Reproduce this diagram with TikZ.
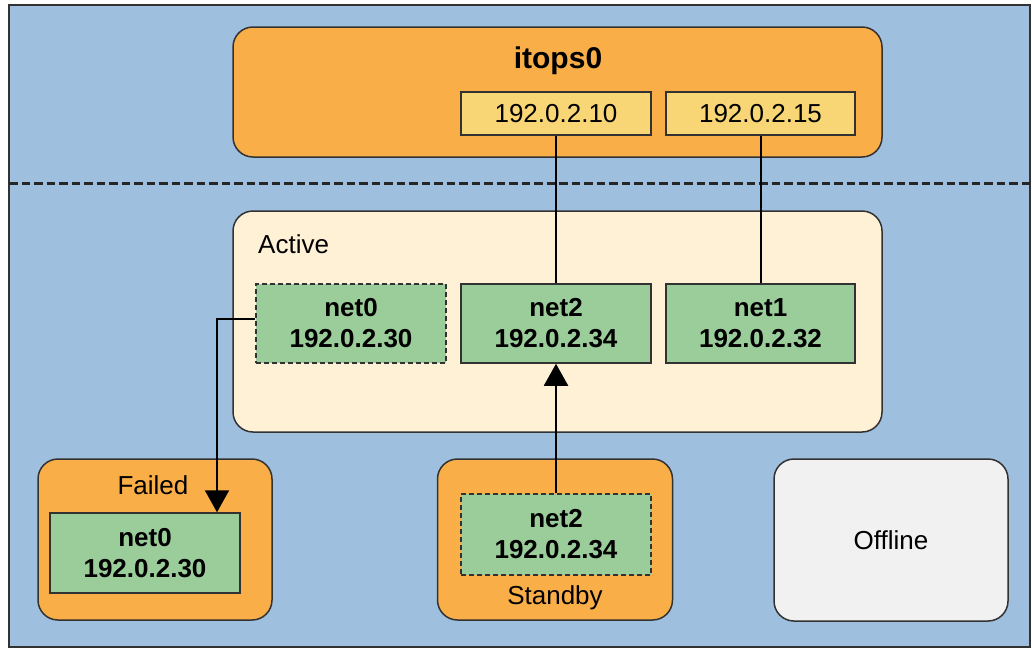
\documentclass[tikz,border=0pt]{standalone}
\usepackage{fontspec}
\setmainfont{Liberation Sans}
\usetikzlibrary{arrows.meta}

\definecolor{bgblue}{RGB}{159,191,222}
\definecolor{ifaceorange}{RGB}{249,174,72}
\definecolor{addryellow}{RGB}{248,214,117}
\definecolor{activecream}{RGB}{255,241,214}
\definecolor{netgreen}{RGB}{155,205,155}
\definecolor{offgray}{RGB}{241,241,241}
\definecolor{edgegray}{RGB}{50,50,50}

\newcommand\plainfont{\fontsize{26}{31}\selectfont}
\newcommand\netfont{\fontsize{26}{31}\selectfont\bfseries}

\tikzset{
  zone/.style={draw=edgegray, line width=1.5pt, rounded corners=20pt, inner sep=0pt},
  netbox/.style={draw=edgegray, line width=1.5pt, fill=netgreen, inner sep=0pt,
    minimum width=190pt, minimum height=79pt, align=center, font=\netfont},
  sparebox/.style={netbox, dash pattern=on 5pt off 3pt},
  addrbox/.style={draw=edgegray, line width=1.5pt, fill=addryellow, inner sep=0pt,
    minimum width=190pt, minimum height=43pt, font=\plainfont},
  tag/.style={inner sep=0pt, font=\plainfont},
  wire/.style={draw=black, line width=2pt},
  handover/.style={wire, -{Triangle[width=24pt,length=22pt]}},
}

\begin{document}
\begin{tikzpicture}[x=1pt,y=-1pt]
  \useasboundingbox (0,0) rectangle (1032,649);
  \fill[white] (0,0) rectangle (1032,649);

  % outer frame
  \node[draw=edgegray, line width=2pt, fill=bgblue, inner sep=0pt,
        minimum width=1021pt, minimum height=642pt] (frame) at (519.5,326) {};

  % IPMP interface with its data addresses
  \node[zone, fill=ifaceorange, minimum width=649pt, minimum height=130pt] (itops) at (557.5,92) {};
  \node[tag, font=\fontsize{30}{36}\selectfont\bfseries, anchor=base] (itopsname) at (558,68) {itops0};
  \node[addrbox] (ip10) at (556,113.5) {192.0.2.10};
  \node[addrbox, minimum width=189pt] (ip15) at (760.5,113.5) {192.0.2.15};

  % boundary between interface and underlying interfaces
  \draw[black!85, line width=3pt, dash pattern=on 8.5pt off 4pt] (9,183) -- (1030,183);

  % active group
  \node[zone, fill=activecream, minimum width=649pt, minimum height=221pt] (active) at (557.5,321.5) {};
  \node[tag, anchor=base west] (activename) at (258,253) {Active};
  \node[sparebox] (a0) at (351,323.5) {net0\\192.0.2.30};
  \node[netbox] (b2) at (556,323.5) {net2\\192.0.2.34};
  \node[netbox, minimum width=189pt] (c1) at (760.5,323.5) {net1\\192.0.2.32};

  % failed group
  \node[zone, fill=ifaceorange, minimum width=234pt, minimum height=161pt] (failed) at (155,539.5) {};
  \node[tag, anchor=base] (failedname) at (153,494) {Failed};
  \node[netbox, minimum height=80pt] (f0) at (145,553) {net0\\192.0.2.30};

  % standby group
  \node[zone, fill=ifaceorange, minimum width=235pt, minimum height=161pt] (standby) at (555,539.5) {};
  \node[sparebox, minimum height=81pt] (s2) at (556,534.5) {net2\\192.0.2.34};
  \node[tag, anchor=base] (standbyname) at (555,604) {Standby};

  % offline group
  \node[zone, fill=offgray, minimum width=234pt, minimum height=162pt, font=\plainfont] (offline) at (891,540) {Offline};

  % address bindings
  \draw[wire] (ip10.south) -- (b2.north);
  \draw[wire] (ip15.south) -- (c1.north);

  % failover moves
  \coordinate (bend) at (217,319);
  \draw[handover] (a0.west |- bend) -- (bend) -- (bend |- f0.north);
  \draw[handover] (s2.north) -- (b2.south);
\end{tikzpicture}
\end{document}
